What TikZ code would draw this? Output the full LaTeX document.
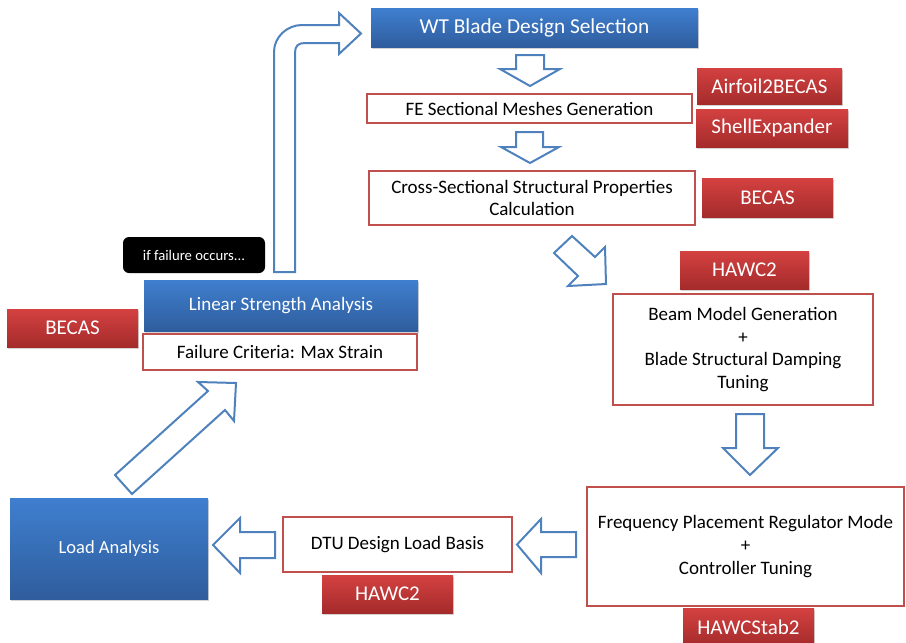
\documentclass[tikz,border=0pt]{standalone}
\usepackage{fontspec}
\setmainfont{Carlito}
\usetikzlibrary{shadows}
\definecolor{bluetop}{HTML}{3F7FCF}
\definecolor{bluebot}{HTML}{2F5D9D}
\definecolor{redtop}{HTML}{D44141}
\definecolor{redbot}{HTML}{A52B2B}
\definecolor{redline}{HTML}{C0504D}
\definecolor{arrowblue}{HTML}{4F81BD}
\tikzset{
  bluebox/.style={rectangle, inner sep=0pt, top color=bluetop, bottom color=bluebot, draw=none,
    text=white, align=center, drop shadow={shadow xshift=1pt, shadow yshift=-2pt, opacity=0.35}},
  redbox/.style={rectangle, inner sep=0pt, top color=redtop, bottom color=redbot, draw=none,
    text=white, align=center, font=\fontsize{21}{24}\selectfont,
    minimum width=131, minimum height=38,
    drop shadow={shadow xshift=1pt, shadow yshift=-2pt, opacity=0.35}},
  outbox/.style={rectangle, inner sep=0pt, draw=redline, line width=2pt, fill=white,
    text=black, align=center, font=\fontsize{19}{22.7}\selectfont},
  blockarrow/.style={draw=arrowblue, line width=2pt, fill=white, line join=miter}
}
\begin{document}
\begin{tikzpicture}[x=1pt,y=-1pt]
\useasboundingbox (0,0) rectangle (906,643);
% block arrows
\draw[blockarrow] (295,272) -- (295,53) .. controls (295,46) and (298,43) .. (305,43)
  -- (339,43) -- (339,54) -- (361,33.5) -- (339,13) -- (339,25) -- (302,25)
  .. controls (287,25) and (274,37) .. (274,52) -- (274,272) -- cycle;
\draw[blockarrow] (516,55) -- (544,55) -- (544,69) -- (560,69) -- (530,86) -- (500,69) -- (516,69) -- cycle;
\draw[blockarrow] (516,132) -- (543,132) -- (543,147) -- (559,147) -- (530,163) -- (501,147) -- (516,147) -- cycle;
\draw[blockarrow] (572,236) -- (595,257) -- (605,247) -- (606,284) -- (568,286) -- (578,276) -- (554,253) -- cycle;
\draw[blockarrow] (736,414) -- (764,414) -- (764,448) -- (778,448) -- (750,475) -- (723,448) -- (736,448) -- cycle;
\draw[blockarrow] (517,544.5) -- (541,519) -- (541,532) -- (576,532) -- (576,557) -- (541,557) -- (541,573) -- cycle;
\draw[blockarrow] (213,545) -- (240,518) -- (240,532) -- (275,532) -- (275,558) -- (240,558) -- (240,573) -- cycle;
\draw[blockarrow] (115,475) -- (132,494) -- (225,410) -- (234,421) -- (236,383) -- (198,382) -- (208,391) -- cycle;
% boxes
\node[bluebox, minimum width=327, minimum height=39, font=\fontsize{21.3}{24}\selectfont] (wt) at (534.5,27.5) {WT Blade Design Selection};
\node[outbox, minimum width=325, minimum height=29] (fe) at (529.5,108.5) {FE Sectional Meshes Generation};
\node[redbox, minimum width=145, minimum height=36] (airfoil) at (769.5,86) {Airfoil2BECAS};
\node[redbox, minimum width=152] (shell) at (772,128) {ShellExpander};
\node[outbox, minimum width=326, minimum height=54] (cross) at (532,198) {Cross-Sectional Structural Properties\\Calculation};
\node[redbox, minimum height=39] (becasa) at (767.5,197.5) {BECAS};
\node[redbox, minimum width=129] (hawca) at (744.5,270) {HAWC2};
\node[outbox, minimum width=260, minimum height=111] (beam) at (743,349.5) {\raisebox{-2pt}{\parbox{250pt}{\centering Beam Model Generation\\+\\Blade Structural Damping\\Tuning}}};
\node[outbox, minimum width=317, minimum height=119] (freq) at (745.5,546.5) {Frequency Placement Regulator Mode\\+\\Controller Tuning};
\node[redbox] (hawcstab) at (748.5,627) {HAWCStab2};
\node[outbox, minimum width=229, minimum height=55] (dtu) at (397.5,544.5) {DTU Design Load Basis};
\node[redbox] (hawcb) at (387.5,594) {HAWC2};
\node[bluebox, minimum width=198, minimum height=101, font=\fontsize{18.5}{22}\selectfont] (load) at (109,548.5) {Load Analysis};
\node[bluebox, minimum width=274, minimum height=51, font=\fontsize{19}{22}\selectfont] (linear) at (281,305.5) {Linear Strength Analysis};
\node[outbox, minimum width=274, minimum height=36] (failure) at (280,352) {Failure Criteria: Max Strain};
\node[redbox] (becasb) at (72.5,328) {BECAS};
\node[rectangle, rounded corners=6pt, fill=black, text=white, inner sep=0pt, minimum width=142, minimum height=36,
  font=\fontsize{14.7}{17}\selectfont] (iffail) at (194,255) {if failure occurs...};
\end{tikzpicture}
\end{document}
